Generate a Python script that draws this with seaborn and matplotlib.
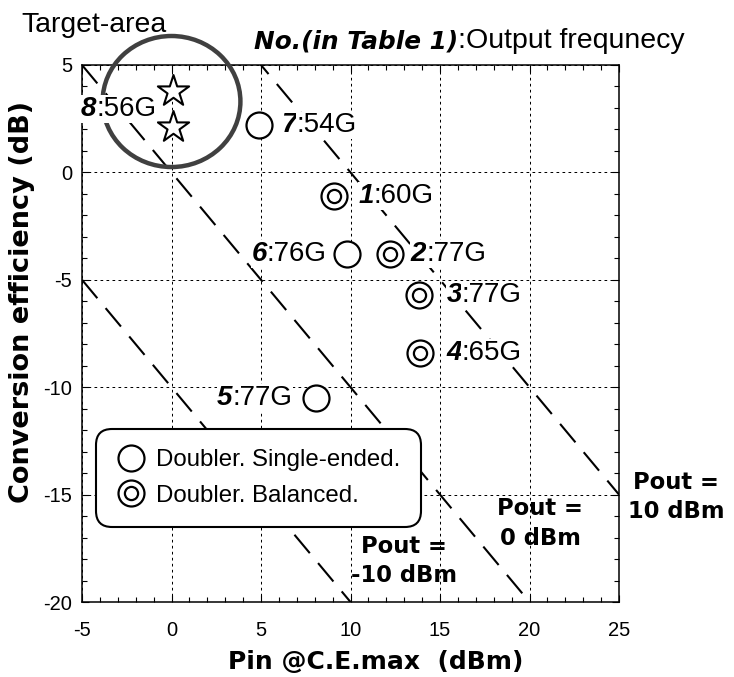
import numpy as np
import pandas as pd
import matplotlib
matplotlib.use("Agg")
import matplotlib.pyplot as plt
import seaborn as sns
from matplotlib.patches import Ellipse
from matplotlib.lines import Line2D
from matplotlib.ticker import MultipleLocator

# ---------------- data ----------------
dev_num = ['1', '2', '3', '4', '5', '6', '7']
dev_freq = ['60G', '77G', '77G', '65G', '77G', '76G', '54G']
dev_type = ['Balanced', 'Balanced', 'Balanced', 'Balanced',
            'Single-ended', 'Single-ended', 'Single-ended']
dev_pin = [9.1, 12.2, 13.8, 13.9, 8.1, 9.8, 4.9]
dev_ce = [-1.1, -3.8, -5.7, -8.4, -10.5, -3.8, 2.2]

target_num = '8'
target_freq = '56G'
target_pin = [0.1, 0.1]
target_ce = [3.8, 2.1]

pout_levels = [-10, 0, 10]
pin_span = [-5, 25]
x_ticks = [-5, 0, 5, 10, 15, 20, 25]
y_ticks = [-20, -15, -10, -5, 0, 5]
legend_labels = ['Doubler. Single-ended.', 'Doubler. Balanced.']

# ---------------- style / layout ----------------
label_dx_px = [24, 21, 28, 26, -24, -20, 22]   # label offsets (pixels)
target_dx_px = -17
pout_label_pos = [(13.0, -18.1), (20.6, -16.35), (28.2, -15.1)]
PX = 0.72  # pixels -> points at 100 dpi

sns.set_style('ticks', rc={'axes.edgecolor': 'black', 'text.color': 'black',
                           'axes.labelcolor': 'black', 'xtick.color': 'black',
                           'ytick.color': 'black'})
plt.rcParams['font.family'] = ['Liberation Sans', 'DejaVu Sans']
plt.rcParams['axes.unicode_minus'] = False

W, H = 734, 677
fig = plt.figure(figsize=(W / 100, H / 100), dpi=100)
ax = fig.add_axes([82 / W, 1 - 602 / H, 537 / W, 537 / H])

# Pout constant lines: CE = Pout - Pin
for p in pout_levels:
    pin = np.array(pin_span, dtype=float)
    sns.lineplot(x=pin, y=p - pin, ax=ax, color='black', lw=1.5,
                 linestyle=(0, (11.5, 6.2)), zorder=2, legend=False)

df = pd.DataFrame(dict(pin=dev_pin, ce=dev_ce, kind=dev_type,
                       num=dev_num, freq=dev_freq))
bal = df[df.kind == 'Balanced']

OUTER_S, INNER_S = 350, 90
sns.scatterplot(data=df, x='pin', y='ce', marker='o', s=OUTER_S, color='white',
                edgecolor='black', linewidth=1.6, ax=ax, zorder=4, legend=False)
sns.scatterplot(data=bal, x='pin', y='ce', marker='o', s=INNER_S, color='white',
                edgecolor='black', linewidth=1.6, ax=ax, zorder=5, legend=False)
sns.scatterplot(x=target_pin, y=target_ce, marker='*', s=560, color='white',
                edgecolor='black', linewidth=1.5, ax=ax, zorder=5, legend=False)

# Target-area circle
ax.add_patch(Ellipse((0.0, 3.3), 7.7, 6.1, fill=False, ec='#404040', lw=3.2,
                     clip_on=False, zorder=6))

LBL_FS = 20
bb = dict(boxstyle='square,pad=0.02', fc='white', ec='none')


def add_label(x, y, num, freq, dx_px):
    dx = dx_px * PX
    if dx >= 0:
        t1 = ax.annotate(num, (x, y), xytext=(dx, 0), textcoords='offset points',
                         ha='left', va='center', fontsize=LBL_FS, fontweight='bold',
                         fontstyle='italic', zorder=7, bbox=bb, annotation_clip=False)
        ax.annotate(':' + freq, xy=(1, y), xycoords=(t1, 'data'), ha='left',
                    va='center', fontsize=LBL_FS, zorder=7, bbox=bb,
                    annotation_clip=False)
    else:
        t2 = ax.annotate(':' + freq, (x, y), xytext=(dx, 0), textcoords='offset points',
                         ha='right', va='center', fontsize=LBL_FS, zorder=7, bbox=bb,
                         annotation_clip=False)
        ax.annotate(num, xy=(0, y), xycoords=(t2, 'data'), ha='right', va='center',
                    fontsize=LBL_FS, fontweight='bold', fontstyle='italic', zorder=7,
                    bbox=bb, annotation_clip=False)


for i in range(len(dev_num)):
    add_label(dev_pin[i], dev_ce[i], dev_num[i], dev_freq[i], label_dx_px[i])
add_label(target_pin[0], float(np.mean(target_ce)), target_num, target_freq, target_dx_px)

# Pout labels
for p, (lx, ly) in zip(pout_levels, pout_label_pos):
    ax.text(lx, ly, f'Pout =\n{p} dBm', ha='center', va='center',
            multialignment='center', fontsize=16.3, fontweight='bold',
            family='DejaVu Sans', linespacing=1.35, clip_on=False, zorder=7)

# axes
ax.set_xlim(pin_span[0], pin_span[1])
ax.set_ylim(-20, 5)
ax.set_xticks(x_ticks)
ax.set_yticks(y_ticks)
ax.xaxis.set_minor_locator(MultipleLocator(1))
ax.yaxis.set_minor_locator(MultipleLocator(1))
ax.tick_params(which='both', direction='in', top=True, right=True, width=0.8)
ax.tick_params(which='major', length=5)
ax.tick_params(which='minor', length=3.6)
ax.tick_params(axis='x', which='major', pad=14, labelsize=14.5)
ax.tick_params(axis='y', which='major', pad=7, labelsize=14.5)
for s in ax.spines.values():
    s.set_linewidth(1.1)
    s.set_visible(True)
ax.grid(True, which='major', color='black', lw=0.72, ls=(0, (2.7, 3.3)))

ax.set_xlabel('Pin @C.E.max  (dBm)', fontsize=18, fontweight='bold',
              family='DejaVu Sans', va='center')
ax.set_ylabel('Conversion efficiency (dB)', fontsize=19.5, fontweight='bold',
              family='DejaVu Sans', va='center')
ax.xaxis.set_label_coords(0.547, -0.112)
ax.yaxis.set_label_coords(-0.112, 0.559)

# legend
h_single = Line2D([], [], ls='none', marker='o', ms=18.7, mfc='white', mec='black', mew=1.6)
h_inner = Line2D([], [], ls='none', marker='o', ms=9.5, mfc='white', mec='black', mew=1.6)
leg = ax.legend([h_single, (h_single, h_inner)], legend_labels, loc='lower left',
                bbox_to_anchor=(14 / 537, 75 / 537), borderaxespad=0, fontsize=17.3,
                frameon=True, fancybox=True, framealpha=1, edgecolor='black',
                handlelength=1.2, handletextpad=0.45, borderpad=0.85, labelspacing=0.55)
leg.get_frame().set_linewidth(1.5)
leg.get_frame().set_boxstyle('round,pad=0,rounding_size=0.65')
leg.set_zorder(8)

# titles
fig.text(21 / W, 1 - 32 / H, 'Target-area', fontsize=20.4, va='baseline', ha='left')
t_bold = fig.text(254 / W, 1 - 48 / H, 'No.(in Table 1)', fontsize=17.8,
                  family='DejaVu Sans', fontweight='bold', fontstyle='italic',
                  va='baseline', ha='left')
ax.annotate(':Output frequnecy', xy=(1, 1 - 48 / H), xycoords=(t_bold, 'figure fraction'),
            va='baseline', ha='left', fontsize=20.5, annotation_clip=False)

fig.savefig('out.png', dpi=100)
